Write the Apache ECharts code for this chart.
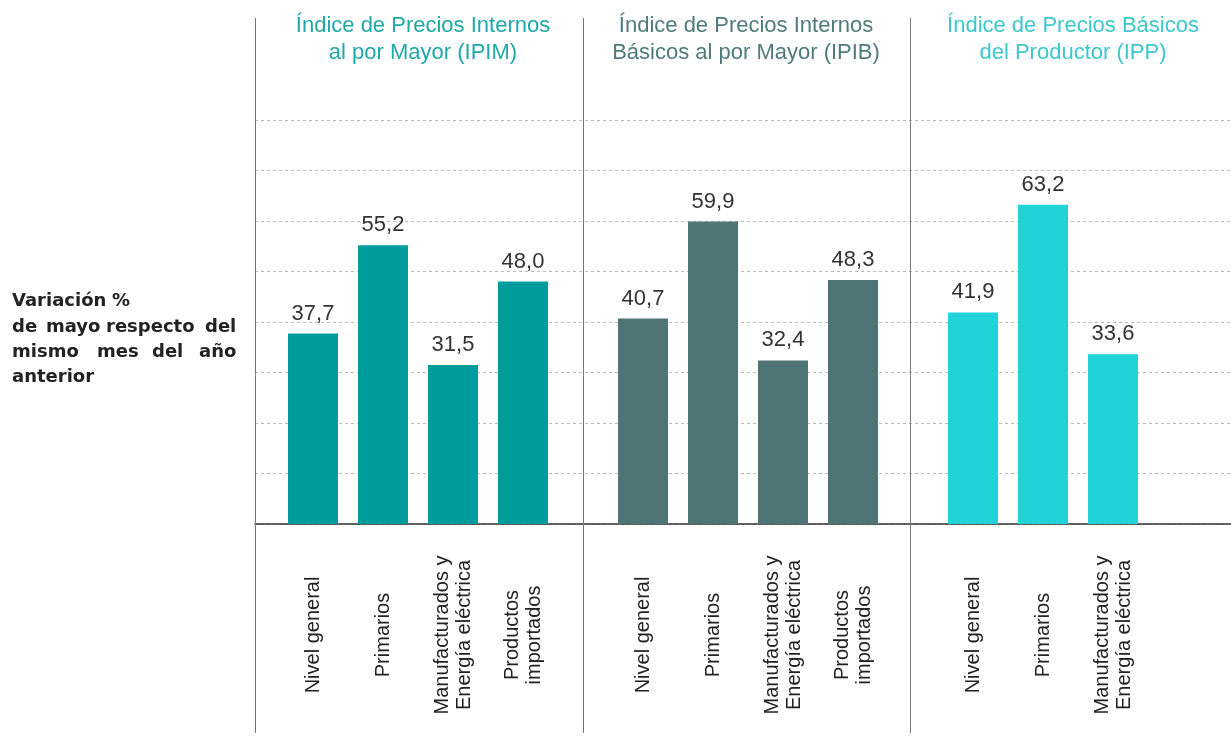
<!DOCTYPE html>
<html>
<head>
<meta charset="utf-8">
<title>Variación % de mayo</title>
<script src="https://cdn.jsdelivr.net/npm/echarts@6.0.0/dist/echarts.min.js"></script>
<style>
  html, body { margin: 0; padding: 0; background: #fff; }
  #chart { width: 1231px; height: 736px; }
</style>
</head>
<body>
<div id="chart"></div>
<script>
'use strict'
// datos
var catsIPIM = ['Nivel general', 'Primarios', 'Manufacturados y\nEnergía eléctrica', 'Productos\nimportados'];
var catsIPIB = ['Nivel general', 'Primarios', 'Manufacturados y\nEnergía eléctrica', 'Productos\nimportados'];
var catsIPP = ['Nivel general', 'Primarios', 'Manufacturados y\nEnergía eléctrica', ''];
var valIPIM = [37.7, 55.2, 31.5, 48.0];
var valIPIB = [40.7, 59.9, 32.4, 48.3];
var valIPP = [41.9, 63.2, 33.6, '-'];
var titles = [
    'Índice de Precios Internos\nal por Mayor (IPIM)',
    'Índice de Precios Internos\nBásicos al por Mayor (IPIB)',
    'Índice de Precios Básicos\ndel Productor (IPP)'
];
var yTicks = {min: 0, max: 80, interval: 10};

var FONT = '"Helvetica Neue", Arial, "Liberation Sans", sans-serif';
var BOLD_FONT = '"DejaVu Sans", sans-serif';
var colors = ['#009c9c', '#4f7475', '#20d3d8'];
var titleColors = ['#1ea8a8', '#4f7b7b', '#3cc8cc'];
var gridTop = 120, gridBottom = 212;
var panelLeft = [278, 608, 938];
var panelCenter = [423, 746, 1073];

var chart = echarts.init(document.getElementById('chart'));

function fmt(p) {
    return p.value.toFixed(1).replace('.', ',');
}

var grids = [{left: 255, right: 0, top: gridTop, bottom: gridBottom}];
var xAxes = [{
    gridIndex: 0, type: 'value', min: 0, max: 1,
    axisLine: {show: true, lineStyle: {color: '#333', width: 1.5}},
    axisTick: {show: false}, axisLabel: {show: false}, splitLine: {show: false}
}];
var yAxes = [{
    gridIndex: 0, type: 'value', min: yTicks.min, max: yTicks.max, interval: yTicks.interval,
    axisLine: {show: false}, axisTick: {show: false}, axisLabel: {show: false},
    splitLine: {lineStyle: {color: '#bbb', type: [3, 3], width: 1}}
}];
var series = [];
var catsAll = [catsIPIM, catsIPIB, catsIPP];
var valsAll = [valIPIM, valIPIB, valIPP];

for (var i = 0; i < 3; i++) {
    grids.push({left: panelLeft[i], width: 280, top: gridTop, bottom: gridBottom});
    xAxes.push({
        gridIndex: i + 1, type: 'category', data: catsAll[i],
        axisLine: {show: false}, axisTick: {show: false},
        axisLabel: {
            interval: 0, rotate: 90, align: 'center', verticalAlign: 'middle',
            margin: 111, fontSize: 20, lineHeight: 22, color: '#222', fontFamily: FONT
        }
    });
    yAxes.push({gridIndex: i + 1, type: 'value', min: yTicks.min, max: yTicks.max, show: false});
    series.push({
        type: 'bar', xAxisIndex: i + 1, yAxisIndex: i + 1,
        data: valsAll[i], barWidth: 50,
        itemStyle: {color: colors[i]},
        label: {
            show: true, position: 'top', distance: 9, formatter: fmt,
            fontSize: 22, color: '#333', fontFamily: FONT
        }
    });
}

var graphics = [];
[255.5, 583.5, 910.5].forEach(function (x) {
    graphics.push({type: 'line', shape: {x1: x, y1: 18, x2: x, y2: 733},
        style: {stroke: '#777', lineWidth: 1}, z: 10});
});
titles.forEach(function (t, i) {
    graphics.push({type: 'text', x: panelCenter[i], y: 39.5,
        style: {text: t, align: 'center', verticalAlign: 'middle', fill: titleColors[i],
            font: '22px ' + FONT, lineHeight: 27}});
});
// texto lateral, palabra por palabra (justificado)
var sideWords = [
    ['Variación', 12, 301], ['%', 112, 301],
    ['de', 12, 327], ['mayo', 46, 327], ['respecto', 106, 327], ['del', 205, 327],
    ['mismo', 12, 352], ['mes', 97, 352], ['del', 152, 352], ['año', 199, 352],
    ['anterior', 12, 377]
];
sideWords.forEach(function (w) {
    graphics.push({type: 'text', x: w[1], y: w[2],
        style: {text: w[0], align: 'left', verticalAlign: 'middle', fill: '#222',
            font: 'bold 18px ' + BOLD_FONT}});
});

var option = {
    animation: false,
    backgroundColor: '#fff',
    grid: grids,
    xAxis: xAxes,
    yAxis: yAxes,
    series: series,
    graphic: graphics
};
chart.setOption(option);
</script>
</body>
</html>
